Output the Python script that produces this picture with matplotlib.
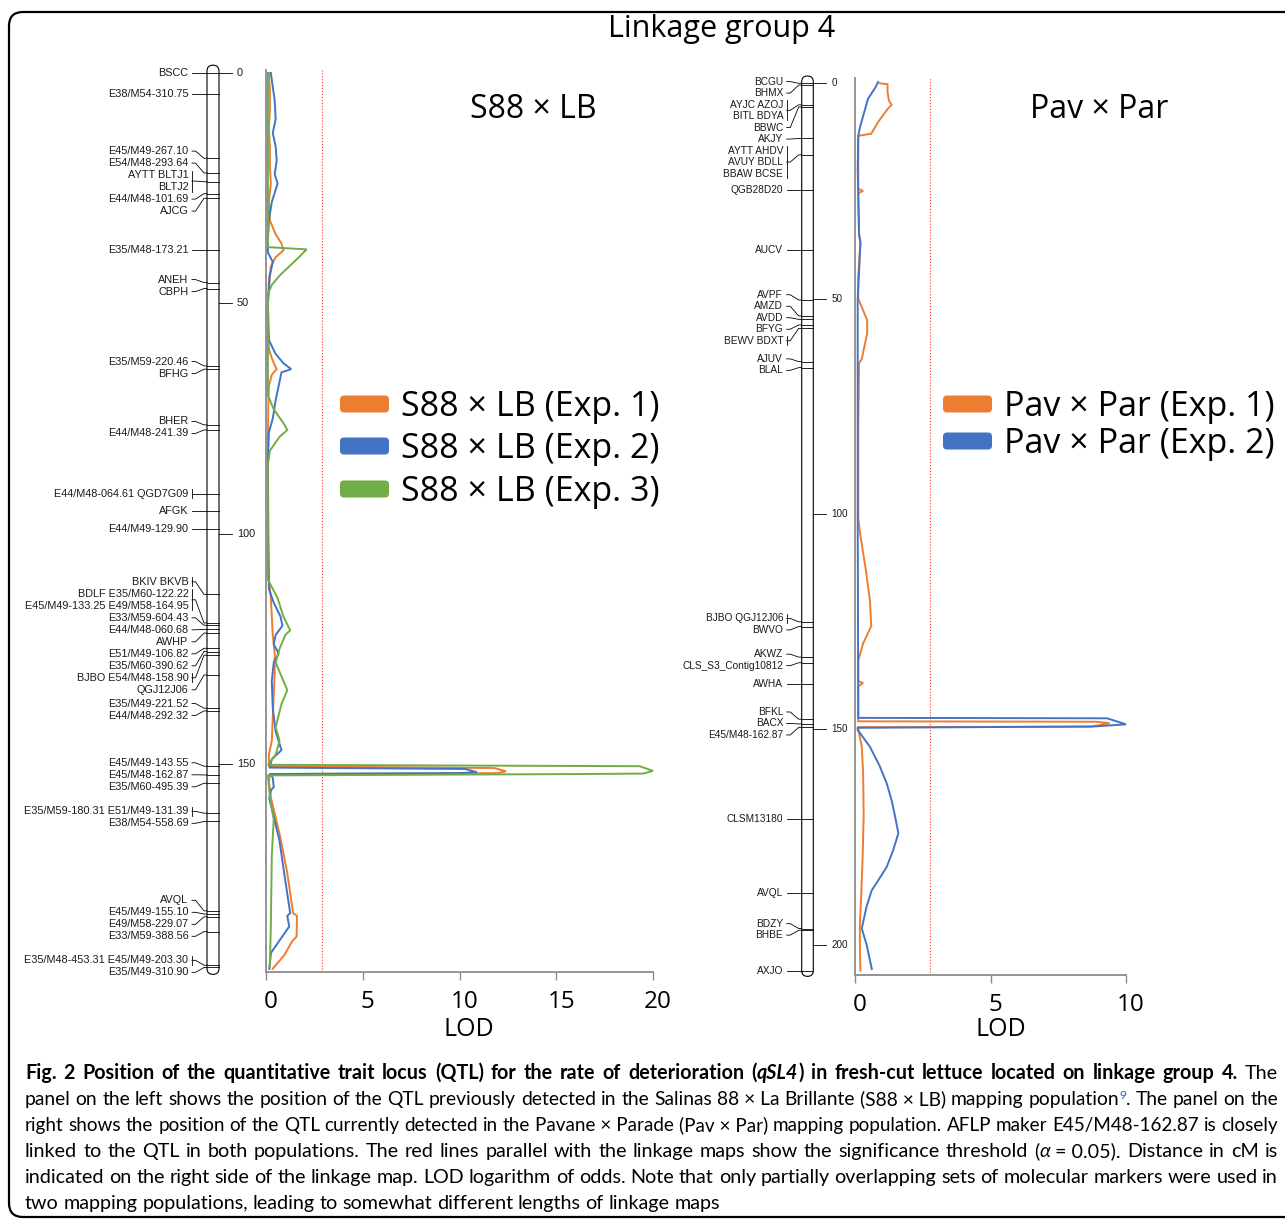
import matplotlib
matplotlib.use("Agg")
import matplotlib.pyplot as plt
import matplotlib.transforms as mtrans
from matplotlib.patches import FancyBboxPatch

# ---------------- data ----------------
# linkage map S88 x LB: marker names (rows as printed) and map position (cM)
left_names = [
    ["BSCC"], ["E38/M54-310.75"], ["E45/M49-267.10"], ["E54/M48-293.64"],
    ["AYTT BLTJ1", "BLTJ2"], ["E44/M48-101.69"], ["AJCG"], ["E35/M48-173.21"],
    ["ANEH"], ["CBPH"], ["E35/M59-220.46"], ["BFHG"], ["BHER"], ["E44/M48-241.39"],
    ["E44/M48-064.61 QGD7G09"], ["AFGK"], ["E44/M49-129.90"], ["BKIV BKVB"],
    ["BDLF E35/M60-122.22", "E45/M49-133.25 E49/M58-164.95"], ["E33/M59-604.43"],
    ["E44/M48-060.68"], ["AWHP"], ["E51/M49-106.82"], ["E35/M60-390.62"],
    ["BJBO E54/M48-158.90"], ["QGJ12J06"], ["E35/M49-221.52"], ["E44/M48-292.32"],
    ["E45/M49-143.55"], ["E45/M48-162.87"], ["E35/M60-495.39"],
    ["E35/M59-180.31 E51/M49-131.39"], ["E38/M54-558.69"], ["AVQL"],
    ["E45/M49-155.10"], ["E49/M58-229.07"], ["E33/M59-388.56"],
    ["E35/M48-453.31 E45/M49-203.30"], ["E35/M49-310.90"],
]
left_cm = [0.0, 4.6, 18.5, 21.7, 23.6, 26.2, 27.2, 38.4, 45.5, 46.8, 63.6, 64.3,
           76.4, 77.5, 91.3, 95.2, 98.9, 113.2, 119.4, 119.9, 120.8, 121.6, 124.9,
           125.6, 126.4, 130.7, 137.9, 138.5, 150.5, 152.4, 154.2, 160.7, 162.5,
           181.9, 182.6, 183.2, 186.4, 193.7, 194.2]
left_ticks = [0, 50, 100, 150]

# linkage map Pav x Par
right_names = [
    ["BCGU"], ["BHMX"], ["AYJC AZOJ", "BITL BDYA"], ["BBWC"], ["AKJY"],
    ["AYTT AHDV", "AVUY BDLL", "BBAW BCSE"], ["QGB28D20"], ["AUCV"], ["AVPF"],
    ["AMZD"], ["AVDD"], ["BFYG"], ["BEWV BDXT"], ["AJUV"], ["BLAL"],
    ["BJBO QGJ12J06"], ["BWVO"], ["AKWZ"], ["CLS_S3_Contig10812"], ["AWHA"],
    ["BFKL"], ["BACX"], ["E45/M48-162.87"], ["CLSM13180"], ["AVQL"], ["BDZY"],
    ["BHBE"], ["AXJO"],
]
right_cm = [0.0, 0.4, 5.0, 5.5, 12.8, 16.6, 24.8, 38.7, 50.3, 54.0, 54.8, 56.1,
            56.9, 64.6, 66.0, 125.0, 126.1, 133.2, 134.5, 139.5, 147.6, 148.7,
            149.5, 170.8, 187.9, 196.2, 196.6, 206.0]
right_ticks = [0, 50, 100, 150, 200]

# LOD profiles, S88 x LB
s88_e1_cm = [0, 4, 8, 12, 16, 20, 24, 28, 32, 35, 37, 38.5, 40, 42, 45, 50, 55, 60,
             62.5, 64.3, 65.5, 68, 72, 80, 90, 100, 110, 114, 118, 122, 126, 130, 135,
             140, 145, 148, 150.5, 150.9, 151.6, 152.0, 152.2, 154, 157.5, 162, 166.5,
             173.7, 182.4, 183.0, 187.5, 188.5, 191.5, 194.5]
s88_e1_lod = [0.15, 0.2, 0.2, 0.15, 0.2, 0.2, 0.25, 0.15, 0.2, 0.5, 0.8, 0.9, 0.5,
              0.25, 0.15, 0.1, 0.1, 0.15, 0.35, 0.55, 0.3, 0.15, 0.12, 0.1, 0.1, 0.1,
              0.15, 0.25, 0.3, 0.35, 0.45, 0.45, 0.4, 0.35, 0.3, 0.15, 0.15, 11.8,
              12.4, 12.0, 0.2, 0.15, 0.26, 0.52, 0.77, 1.1, 1.4, 1.6, 1.58, 1.35,
              0.95, 0.34]
s88_e2_cm = [0, 3, 6, 10, 13, 16, 19, 22, 24, 26, 28, 32, 36, 39, 41, 44, 50, 58, 61,
             63, 64.3, 65, 67, 71, 75, 78, 85, 100, 112, 115, 118, 120, 122, 124, 126,
             128, 132, 138, 143, 147, 149, 150.8, 151.1, 151.8, 152.0, 152.2, 153, 155,
             155.7, 157.5, 162, 166.5, 173.7, 182.4, 183, 185.3, 191, 194.5]
s88_e2_lod = [0.25, 0.35, 0.45, 0.5, 0.35, 0.5, 0.55, 0.45, 0.6, 0.45, 0.3, 0.15,
              0.1, 0.1, 0.35, 0.2, 0.1, 0.15, 0.5, 0.9, 1.3, 0.8, 0.7, 0.5, 0.35, 0.15,
              0.1, 0.12, 0.15, 0.4, 0.75, 0.85, 0.5, 0.4, 0.65, 0.4, 0.3, 0.35, 0.5,
              0.8, 0.3, 0.2, 10.3, 10.9, 10.0, 0.2, 0.35, 0.4, 0.26, 0.17, 0.43, 0.69,
              0.94, 1.25, 1.1, 1.2, 0.26, 0.17]
s88_e3_cm = [0, 10, 20, 30, 37.8, 38.3, 40, 42, 44, 46, 48, 60, 70, 73, 76, 77.5, 79,
             82, 85, 100, 110, 114, 118, 121, 122, 125, 128, 131, 134, 137, 142, 145,
             148, 150.2, 150.5, 151.5, 152.1, 152.2, 152.5, 157, 162, 170, 185, 194]
s88_e3_lod = [0.1, 0.1, 0.1, 0.1, 0.1, 2.1, 1.7, 1.2, 0.7, 0.3, 0.1, 0.1, 0.1, 0.4,
              0.9, 1.1, 0.7, 0.2, 0.1, 0.1, 0.1, 0.6, 0.9, 1.25, 1.0, 0.7, 0.5, 0.8,
              1.1, 0.8, 0.5, 0.7, 0.5, 0.1, 19.3, 20.0, 19.5, 16.3, 0.1, 0.2, 0.4, 0.3,
              0.25, 0.2]

# LOD profiles, Pav x Par
pav_e1_cm = [0, 0.2, 2, 4, 5, 6, 9, 11.7, 12.2, 20, 24.5, 25, 25.5, 35, 37, 45, 50,
             52.7, 55, 58, 64, 65, 80, 101, 105, 113, 120, 126, 130, 134, 138.8, 139.2,
             140, 148.1, 148.2, 148.55, 149.35, 149.45, 150, 154, 160, 170, 175, 180,
             185, 190, 195, 200, 206]
pav_e1_lod = [0.9, 1.2, 1.2, 1.25, 1.35, 1.2, 0.85, 0.6, 0.12, 0.12, 0.12, 0.3, 0.12,
              0.15, 0.2, 0.12, 0.12, 0.3, 0.45, 0.45, 0.25, 0.15, 0.12, 0.12, 0.2, 0.4,
              0.55, 0.6, 0.3, 0.12, 0.12, 0.3, 0.12, 0.12, 8.9, 9.4, 8.7, 0.12, 0.12,
              0.25, 0.3, 0.32, 0.3, 0.28, 0.25, 0.22, 0.18, 0.18, 0.2]
pav_e2_cm = [-0.3, 1, 3.6, 7.6, 10.3, 12.3, 20, 35, 37, 50, 100, 147.3, 147.4, 148.8,
             149.3, 149.6, 150.1, 154, 158.6, 162.5, 166.4, 170.2, 174.1, 178, 181.9,
             185, 187.3, 191, 196.2, 200, 205.6]
pav_e2_lod = [0.85, 0.75, 0.48, 0.3, 0.18, 0.12, 0.1, 0.15, 0.2, 0.1, 0.1, 0.12, 9.3,
              10.0, 8.8, 0.1, 0.1, 0.55, 0.92, 1.17, 1.35, 1.48, 1.6, 1.41, 1.17, 0.86,
              0.62, 0.43, 0.25, 0.43, 0.62]

s88_threshold = 2.9
pav_threshold = 2.75

ORANGE, BLUE, GREEN = "#ED7D31", "#4472C4", "#70AD47"
CHART_FONT = ["Open Sans", "DejaVu Sans"]
MAP_FONT = ["Liberation Sans", "DejaVu Sans"]
CAP_FONT = ["Lato", "DejaVu Sans"]

W, H = 1285, 1223
fig = plt.figure(figsize=(W / 100, H / 100), dpi=100)


def px_axes(x0, x1, y0, y1):
    return fig.add_axes([x0 / W, 1 - y1 / H, (x1 - x0) / W, (y1 - y0) / H])


bg = px_axes(0, W, 0, H)
bg.set_xlim(0, W)
bg.set_ylim(H, 0)
bg.axis("off")
bg.add_patch(FancyBboxPatch((9, 12), 1320, 1205, boxstyle="round,pad=0,rounding_size=14",
                            fc="none", ec="black", lw=1.6))


def place_labels(cms, nrows, pitch, top_min):
    heights = [n * pitch for n in nrows]
    groups = [[i] for i in range(len(cms))]

    def fit(g):
        offs, acc = [], 0.0
        for i in g:
            offs.append(acc + heights[i] / 2)
            acc += heights[i]
        w = [nrows[i] for i in g]
        top = sum(wi * (cms[i] - o) for wi, i, o in zip(w, g, offs)) / sum(w)
        return max(top, top_min), acc

    changed = True
    while changed:
        changed = False
        for k in range(len(groups) - 1):
            t1, h1 = fit(groups[k])
            t2, _ = fit(groups[k + 1])
            if t1 + h1 > t2 + 1e-9:
                groups[k] = groups[k] + groups.pop(k + 1)
                changed = True
                break
    first = {}
    for g in groups:
        acc, _ = fit(g)
        for i in g:
            first[i] = acc + pitch / 2
            acc += heights[i]
    return [first[i] for i in range(len(cms))]


def draw_map(xa, xb, y0, ppc, names, cms, bar, cm_span, ticks, fs, tick_fs):
    ax = px_axes(xa, xb, y0 - 3 * ppc, y0 + (cm_span[1] + 3) * ppc)
    ax.set_xlim(xa, xb)
    ax.set_ylim(cm_span[1] + 3, -3)
    ax.axis("off")
    x0, x1 = bar
    ax.add_patch(FancyBboxPatch((x0, cm_span[0]), x1 - x0, cm_span[1] - cm_span[0],
                                boxstyle="round,pad=0,rounding_size=%.2f" % ((x1 - x0) / 2),
                                mutation_aspect=1 / ppc, fc="white", ec="black", lw=0.8))
    pitch = 12.0 / ppc if ppc > 4.5 else 11.5 / ppc
    lab_x = x0 - 18.5
    first = place_labels(cms, [len(r) for r in names], pitch, -0.4 - pitch / 2)
    kw = dict(color="black", lw=0.6, solid_joinstyle="miter")
    for rows, c, ly in zip(names, cms, first):
        ax.plot([x0, x1], [c, c], **kw)
        for k, r in enumerate(rows):
            ax.text(lab_x, ly + k * pitch, r, ha="right", va="center", fontsize=fs,
                    family=MAP_FONT, color="#1a1a1a")
        if len(" ".join(rows).split()) > 1:
            ya = ly - 0.38 * pitch
            yb = ly + (len(rows) - 1) * pitch + 0.38 * pitch
            ax.plot([lab_x + 3.5, lab_x + 3.5], [ya, yb], **kw)
            ym = (ya + yb) / 2
        else:
            ym = ly
        ax.plot([lab_x + 3.5, lab_x + 7, x0 - 3, x0], [ym, ym, c, c], **kw)
    for t in ticks:
        ax.plot([x1, x1 + 13], [t, t], **kw)
        ax.text(x1 + 18, t, str(t), ha="left", va="center", fontsize=tick_fs,
                family=MAP_FONT, color="#1a1a1a")


draw_map(0, 262, 73.0, 4.606, left_names, left_cm, (207, 219), (-1.7, 195.7),
         left_ticks, 7.8, 7.8)
draw_map(640, 850, 83.3, 4.308, right_names, right_cm, (801.7, 813.3), (-1.7, 207.3),
         right_ticks, 7.3, 7.1)


def lod_axes(x0, x1, ytop, ybot, y0, ppc, xmax, ticks, thr, series):
    ax = px_axes(x0, x1, ytop, ybot)
    ax.set_xlim(0, xmax)
    ax.set_ylim((ybot - y0) / ppc, (ytop - y0) / ppc)
    ax.patch.set_alpha(0)
    for s in ("top", "right"):
        ax.spines[s].set_visible(False)
    for s in ("left", "bottom"):
        ax.spines[s].set_color("#8c8c8c")
        ax.spines[s].set_linewidth(1.3)
    ax.set_yticks([])
    ax.set_xticks(ticks)
    ax.tick_params(axis="x", length=6, width=1, color="#8c8c8c", labelsize=17.5, pad=7)
    off = mtrans.ScaledTranslation(5 / 100, 0, fig.dpi_scale_trans)
    for lbl in ax.get_xticklabels():
        lbl.set_fontfamily(CHART_FONT)
        lbl.set_transform(lbl.get_transform() + off)
    ax.axvline(thr, color="#ff3030", lw=0.8, ls=":")
    for cm, lod, col in series:
        ax.plot(lod, cm, color=col, lw=1.4, clip_on=False, solid_joinstyle="miter")
    return ax


lod_axes(266, 653, 70, 972, 73.0, 4.606, 20, [0, 5, 10, 15, 20], s88_threshold,
         [(s88_e1_cm, s88_e1_lod, ORANGE), (s88_e2_cm, s88_e2_lod, BLUE),
          (s88_e3_cm, s88_e3_lod, GREEN)])
lod_axes(855, 1126, 78, 975, 83.3, 4.308, 10, [0, 5, 10], pav_threshold,
         [(pav_e1_cm, pav_e1_lod, ORANGE), (pav_e2_cm, pav_e2_lod, BLUE)])

# titles, axis labels, legends
bg.text(722, 37.5, "Linkage group 4", ha="center", va="baseline", fontsize=22, family=CHART_FONT)
bg.text(533, 118, "S88 × LB", ha="center", va="baseline", fontsize=23, family=CHART_FONT)
bg.text(1099, 118, "Pav × Par", ha="center", va="baseline", fontsize=23, family=CHART_FONT)
bg.text(469, 1029, "LOD", ha="center", va="center", fontsize=18, family=CHART_FONT)
bg.text(1001, 1030, "LOD", ha="center", va="center", fontsize=18, family=CHART_FONT)

left_legend = ["S88 × LB (Exp. 1)", "S88 × LB (Exp. 2)", "S88 × LB (Exp. 3)"]
right_legend = ["Pav × Par (Exp. 1)", "Pav × Par (Exp. 2)"]
for labels, cols, x0, ys in [(left_legend, [ORANGE, BLUE, GREEN], 340, [404, 446, 489]),
                             (right_legend, [ORANGE, BLUE], 943, [404, 441])]:
    for lab, col, y in zip(labels, cols, ys):
        bg.add_patch(FancyBboxPatch((x0, y - 8.5), 49, 17, boxstyle="round,pad=0,rounding_size=4",
                                    fc=col, ec="none"))
        bg.text(x0 + 61, y + 3, lab, ha="left", va="center", fontsize=24.5, family=CHART_FONT)

# caption, justified line by line
cap_lines = [
    [("Fig. 2 Position of the quantitative trait locus (QTL) for the rate of deterioration (", "b"),
     ("qSL4", "bi"), (") in fresh-cut lettuce located on linkage group 4.", "b"), (" The", "r")],
    [("panel on the left shows the position of the QTL previously detected in the Salinas "
      "88\u00a0×\u00a0La Brillante (S88\u00a0×\u00a0LB) mapping population", "r"), ("9", "sup"),
     (". The panel on the", "r")],
    [("right shows the position of the QTL currently detected in the Pavane\u00a0×\u00a0Parade "
      "(Pav\u00a0×\u00a0Par) mapping population. AFLP maker E45/M48-162.87 is closely", "r")],
    [("linked to the QTL in both populations. The red lines parallel with the linkage maps show "
      "the significance threshold (", "r"), ("α", "i"), ("\u00a0=\u00a00.05). Distance in cM is", "r")],
    [("indicated on the right side of the linkage map. LOD logarithm of odds. Note that only "
      "partially overlapping sets of molecular markers were used in", "r")],
    [("two mapping populations, leading to somewhat different lengths of linkage maps", "r")],
]
styles = {"b": dict(weight="bold"), "bi": dict(weight="bold", style="italic"),
          "r": dict(), "i": dict(style="italic"), "sup": dict(color="#2a5bd7")}


def to_words(runs):
    words = [[]]
    for txt, st in runs:
        for k, p in enumerate(txt.split(" ")):
            if k > 0:
                words.append([])
            if p:
                words[-1].append((p, st))
    return [w for w in words if w]


renderer = fig.canvas.get_renderer()


def seg_text(x, y, txt, st, size):
    if st == "sup":
        return bg.text(x, y - 0.45 * size, txt, fontsize=size * 0.62, family=CAP_FONT,
                       va="baseline", ha="left", **styles[st])
    return bg.text(x, y, txt, fontsize=size, family=CAP_FONT, va="baseline", ha="left",
                   **styles[st])


def word_width(word, size):
    w = 0
    for txt, st in word:
        t = seg_text(0, 0, txt, st, size)
        w += t.get_window_extent(renderer).width
        t.remove()
    return w


cap_x0, cap_x1, base_size = 25, 1278, 14.2
for n, runs in enumerate(cap_lines):
    y = 1079 + 26 * n
    words = to_words(runs)
    size = base_size
    widths = [word_width(w, size) for w in words]
    space = 0.24 * size * 100 / 72
    natural = sum(widths) + space * (len(words) - 1)
    if natural > cap_x1 - cap_x0:
        size *= (cap_x1 - cap_x0) / natural * 0.995
        widths = [word_width(w, size) for w in words]
        space = 0.24 * size * 100 / 72
    if n < len(cap_lines) - 1:
        gap = (cap_x1 - cap_x0 - sum(widths)) / (len(words) - 1)
    else:
        gap = space
    x = cap_x0
    for w, ww in zip(words, widths):
        xx = x
        for txt, st in w:
            t = seg_text(xx, y, txt, st, size)
            xx += t.get_window_extent(renderer).width
        x += ww + gap

fig.savefig("out.png", dpi=100)
